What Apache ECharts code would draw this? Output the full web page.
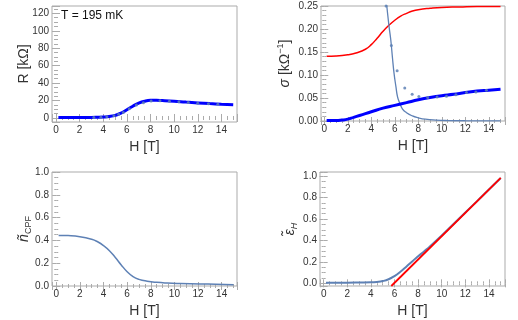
<!DOCTYPE html>
<html>
<head>
<meta charset="utf-8">
<script src="https://cdn.jsdelivr.net/npm/echarts@6/dist/echarts.min.js"></script>
<style>
  html, body { margin: 0; padding: 0; background: #fff; }
  #main { width: 518px; height: 320px; }
</style>
</head>
<body>
<div id="main"></div>
<script>
// R(H): fit curve and measured points
const rFitH = [0.2, 1, 2, 3, 3.5, 4, 4.5, 5, 5.5, 6, 6.5, 7, 7.5, 8, 8.5, 9, 10, 11, 12, 13, 14, 15];
const rFit = [0.5, 0.5, 0.5, 0.6, 0.8, 1.1, 1.7, 3.0, 5.5, 9.5, 13.5, 17.0, 19.2, 20.2, 20.3, 20.0, 19.2, 18.2, 17.3, 16.5, 15.8, 15.2];
const rDataH = [3.2, 3.8, 4.3, 4.9, 5.3, 5.7, 6.2, 6.8, 7.4, 8.05, 8.8, 9.6, 10.4, 11.2, 12.0, 12.9, 13.7];
const rData = [0.5, 0.9, 1.5, 2.6, 4.4, 6.2, 10.5, 14.8, 17.6, 19.4, 19.8, 19.3, 18.5, 17.7, 17.0, 16.3, 15.7];

// sigma(H): points, red curve, thick blue curve, thin steep curve
const sigDataH = [5.26, 5.71, 6.2, 6.85, 7.48, 8.05, 8.8, 9.6, 10.4, 11.2, 12.1, 12.9, 13.8];
const sigData = [0.25, 0.164, 0.109, 0.072, 0.058, 0.053, 0.051, 0.052, 0.054, 0.057, 0.062, 0.063, 0.067];
const sigRedH = [0.2, 1, 2, 2.7, 3.5, 4, 4.5, 5, 5.5, 6, 6.5, 7, 7.5, 8, 9, 10, 11.5, 13, 15];
const sigRed = [0.141, 0.1415, 0.144, 0.148, 0.156, 0.166, 0.18, 0.195, 0.208, 0.219, 0.228, 0.234, 0.239, 0.242, 0.245, 0.247, 0.248, 0.249, 0.249];
const sigBlueH = [0.2, 1, 1.5, 2, 2.5, 3, 3.5, 4, 5, 6, 7, 8, 9, 10, 11, 12, 13, 14, 15];
const sigBlue = [0.001, 0.001, 0.002, 0.004, 0.008, 0.012, 0.016, 0.02, 0.028, 0.034, 0.04, 0.046, 0.051, 0.055, 0.058, 0.062, 0.065, 0.067, 0.069];
const sigThinH = [5.0, 5.15, 5.32, 5.5, 5.66, 5.8, 5.94, 6.1, 6.23, 6.4, 6.66, 7.0, 7.5, 8.0, 8.6, 9.5, 10.5, 12, 15];
const sigThin = [0.34, 0.29, 0.25, 0.208, 0.176, 0.138, 0.103, 0.074, 0.053, 0.04, 0.026, 0.018, 0.011, 0.007, 0.004, 0.002, 0.001, 0.0005, 0.0002];

// n_CPF(H)
const nH = [0.2, 1, 2, 3, 3.5, 4, 4.5, 5, 5.5, 6, 6.5, 7, 7.7, 8.5, 9.4, 10.5, 12.2, 13.5, 15];
const nCpf = [0.444, 0.442, 0.433, 0.41, 0.388, 0.355, 0.31, 0.25, 0.185, 0.125, 0.082, 0.058, 0.042, 0.032, 0.026, 0.022, 0.018, 0.015, 0.012];

// eps_H(H): curve and straight asymptote
const epsH = [0.2, 1, 2, 3, 4, 4.5, 5, 5.5, 6, 6.5, 7, 7.5, 8, 8.5, 9, 10, 11, 12, 13, 14, 15];
const eps = [0.006, 0.006, 0.006, 0.007, 0.009, 0.013, 0.021, 0.038, 0.068, 0.108, 0.155, 0.205, 0.252, 0.298, 0.345, 0.447, 0.555, 0.662, 0.768, 0.876, 0.984];
const epsLineH = [5.73, 15];
const epsLine = [-0.025, 0.985];

const zip = (xs, ys) => xs.map((x, i) => [x, ys[i]]);

const frameColor = '#ababab';
const ink = '#333';
const font = 'Liberation Sans, Arial, sans-serif';
const steel = '#5e81b5';

const nameStyle = {
  fontSize: 14, color: ink, fontFamily: font,
  rich: {
    i: { fontSize: 14, fontStyle: 'italic', color: ink, fontFamily: font },
    sub: { fontSize: 9, color: ink, fontFamily: font, padding: [9, 0, 0, 0] },
    isub: { fontSize: 9, fontStyle: 'italic', color: ink, fontFamily: font, padding: [9, 0, 0, 0] },
    sup: { fontSize: 9, color: ink, fontFamily: font, padding: [0, 0, 9, 0] }
  }
};

function axisPair(dim, g, min, max, step, minorSplit, opts) {
  const base = {
    gridIndex: g, type: 'value', min: min, max: max,
    minInterval: step, maxInterval: step,
    splitLine: { show: false },
    axisLine: { show: false },
    axisTick: { inside: true, length: 4, lineStyle: { color: frameColor } },
    minorTick: { show: true, splitNumber: minorSplit, length: 2, lineStyle: { color: frameColor } }
  };
  const main = Object.assign({}, base, {
    position: dim === 'x' ? 'bottom' : 'left',
    name: opts.name, nameLocation: 'middle', nameGap: opts.gap,
    nameMoveOverlap: false,
    nameTextStyle: nameStyle,
    axisLabel: {
      margin: 3, fontSize: 10, color: ink, fontFamily: font,
      showMinLabel: opts.showEnds, showMaxLabel: opts.showEnds,
      formatter: opts.fmt
    }
  });
  const other = Object.assign({}, base, {
    position: dim === 'x' ? 'top' : 'right',
    axisLabel: { show: false }
  });
  return [main, other];
}

const hName = { name: 'H [T]', gap: 18, showEnds: false };

const xAxis = [].concat(
  axisPair('x', 0, -0.34, 15.32, 2, 4, hName),
  axisPair('x', 1, -0.28, 15.38, 2, 4, hName),
  axisPair('x', 2, -0.36, 15.3, 2, 4, hName),
  axisPair('x', 3, -0.31, 15.36, 2, 4, hName)
);

const yAxis = [].concat(
  axisPair('y', 0, -4.6, 128.4, 20, 4, { name: 'R [kΩ]', gap: 21, showEnds: false }),
  axisPair('y', 1, 0, 0.25, 0.05, 5, { name: '{i|σ} [kΩ{sup|−1}]', gap: 27, showEnds: true, fmt: v => v.toFixed(2) }),
  axisPair('y', 2, 0, 1, 0.2, 4, { name: '{i|ñ}{sub|CPF}', gap: 19, showEnds: true, fmt: v => v.toFixed(1) }),
  axisPair('y', 3, -0.025, 1.04, 0.2, 4, { name: '{i|ε̃}{isub|H}', gap: 21, showEnds: false, fmt: v => v.toFixed(1) })
);

const grid = [
  { left: 52, top: 6, width: 185, height: 116 },
  { left: 321, top: 6, width: 184, height: 115 },
  { left: 52, top: 172, width: 185, height: 114 },
  { left: 320, top: 172, width: 185, height: 114 }
].map(g => Object.assign(g, { show: true, borderColor: frameColor, borderWidth: 1, outerBoundsMode: 'none' }));

function line(g, data, color, width, z) {
  return {
    type: 'line', xAxisIndex: 2 * g, yAxisIndex: 2 * g, data: data,
    showSymbol: false, smooth: true, clip: true, z: z,
    lineStyle: { color: color, width: width }, silent: true
  };
}
function dots(g, data, z) {
  return {
    type: 'scatter', xAxisIndex: 2 * g, yAxisIndex: 2 * g, data: data,
    symbolSize: 3, itemStyle: { color: steel, opacity: 0.85 }, z: z, silent: true
  };
}

const chart = echarts.init(document.getElementById('main'), null, { renderer: 'canvas' });
chart.setOption({
  backgroundColor: '#fff',
  animation: false,
  title: {
    text: 'T = 195 mK', left: 61, top: 10, padding: 0,
    textStyle: { fontSize: 12, fontWeight: 'normal', color: '#111', fontFamily: font }
  },
  grid: grid,
  xAxis: xAxis,
  yAxis: yAxis,
  series: [
    line(0, zip(rFitH, rFit), '#0000ff', 3, 2),
    dots(0, zip(rDataH, rData), 3),
    line(1, zip(sigRedH, sigRed), '#ff0000', 1.5, 2),
    line(1, zip(sigThinH, sigThin), steel, 1.3, 2),
    line(1, zip(sigBlueH, sigBlue), '#0000ff', 3, 2),
    dots(1, zip(sigDataH, sigData), 3),
    line(2, zip(nH, nCpf), steel, 1.5, 2),
    line(3, zip(epsH, eps), steel, 2, 2),
    line(3, zip(epsLineH, epsLine), '#ff0000', 1.8, 3)
  ]
});
</script>
</body>
</html>
